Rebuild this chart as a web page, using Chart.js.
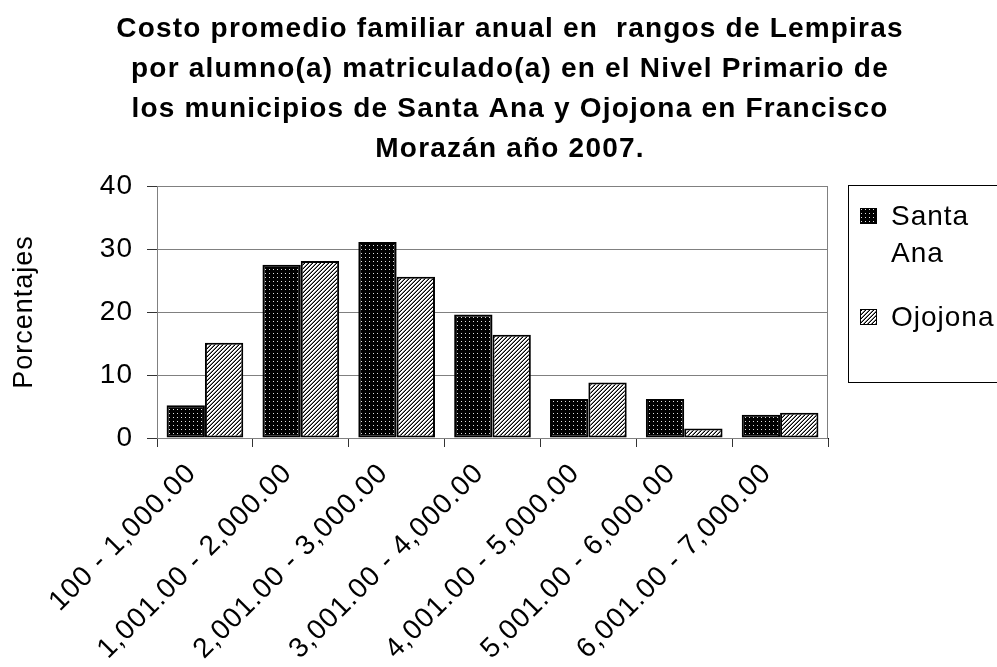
<!DOCTYPE html>
<html>
<head>
<meta charset="utf-8">
<script src="https://cdn.jsdelivr.net/npm/chart.js@4.4.0/dist/chart.umd.min.js"></script>
<style>
  html, body { margin: 0; padding: 0; background: #fff; }
  #wrap { width: 997px; height: 667px; }
</style>
</head>
<body>
<div id="wrap"><canvas id="c" width="997" height="667"></canvas></div>
<script>
const categories = ['100 - 1,000.00', '1,001.00 - 2,000.00', '2,001.00 - 3,000.00', '3,001.00 - 4,000.00', '4,001.00 - 5,000.00', '5,001.00 - 6,000.00', '6,001.00 - 7,000.00'];
const seriesNames = ['Santa Ana', 'Ojojona'];
const legendLines = [['Santa', 'Ana'], ['Ojojona']];
const santaAna = [5.2, 27.5, 31.1, 19.6, 6.2, 6.2, 3.7];
const ojojona = [15.1, 28.1, 25.6, 16.4, 8.8, 1.5, 4.0];
const yMin = 0, yMax = 40, yStep = 10;
const titleLines = [
  'Costo promedio familiar anual en  rangos de Lempiras',
  'por alumno(a) matriculado(a) en el Nivel Primario de',
  'los municipios de Santa Ana y Ojojona en Francisco',
  'Morazán año 2007.'
];
const yAxisTitle = 'Porcentajes';
const FONT = '"Liberation Sans", Arial, sans-serif';

function dotPattern() {
  const t = document.createElement('canvas');
  t.width = 4; t.height = 4;
  const g = t.getContext('2d');
  g.fillStyle = '#000'; g.fillRect(0, 0, 4, 4);
  g.fillStyle = '#e0e0e0'; g.fillRect(1, 1, 1, 1);
  return g.createPattern(t, 'repeat');
}
function stripePattern() {
  const t = document.createElement('canvas');
  t.width = 4; t.height = 4;
  const g = t.getContext('2d');
  g.fillStyle = '#fff'; g.fillRect(0, 0, 4, 4);
  for (let x = 0; x < 4; x++) for (let y = 0; y < 4; y++) {
    const k = (x + y) % 4;
    if (k === 3) { g.fillStyle = '#000'; g.fillRect(x, y, 1, 1); }
    else if (k === 2) { g.fillStyle = '#808080'; g.fillRect(x, y, 1, 1); }
  }
  return g.createPattern(t, 'repeat');
}
const patSA = dotPattern();
const patOJ = stripePattern();
const patterns = [patSA, patOJ];

const decor = {
  id: 'decor',
  beforeDraw(chart) {
    chart.ctx.letterSpacing = '1px';
  },
  beforeDatasetsDraw(chart) {
    const { ctx, chartArea: a } = chart;
    ctx.save();
    ctx.strokeStyle = '#808080';
    ctx.lineWidth = 1;
    ctx.strokeRect(a.left + 0.5, a.top + 0.5, a.right - a.left - 1, a.bottom - a.top);
    ctx.restore();
  },
  afterDraw(chart) {
    const { ctx } = chart;
    ctx.save();
    // title
    ctx.fillStyle = '#000';
    ctx.letterSpacing = '1.2px';
    ctx.font = 'bold 28px ' + FONT;
    ctx.textAlign = 'center';
    ctx.textBaseline = 'middle';
    titleLines.forEach((l, i) => ctx.fillText(l, 510, 29 + i * 40));
    // legend box
    ctx.letterSpacing = '1px';
    const lx = 848, ly = 185, lw = 160, lh = 197;
    ctx.strokeStyle = '#000';
    ctx.lineWidth = 1;
    ctx.strokeRect(lx + 0.5, ly + 0.5, lw, lh);
    ctx.font = '28px ' + FONT;
    ctx.textAlign = 'left';
    const rowY = [216, 317];
    legendLines.forEach((lines, i) => {
      const y = rowY[i];
      ctx.fillStyle = patterns[i];
      ctx.fillRect(860, y - 8, 17, 16);
      ctx.strokeStyle = '#000';
      ctx.strokeRect(860.5, y - 7.5, 16, 15);
      ctx.fillStyle = '#000';
      lines.forEach((t, j) => ctx.fillText(t, 891, y + 1 + j * 37));
    });
    ctx.restore();
  }
};

new Chart(document.getElementById('c'), {
  type: 'bar',
  data: {
    labels: categories,
    datasets: [
      { label: seriesNames[0], data: santaAna, backgroundColor: patSA, borderColor: '#000', borderWidth: 2, borderSkipped: false },
      { label: seriesNames[1], data: ojojona, backgroundColor: patOJ, borderColor: '#000', borderWidth: 2, borderSkipped: false }
    ]
  },
  options: {
    responsive: false,
    animation: false,
    layout: { padding: { top: 186, right: 169, left: 0, bottom: 0 } },
    datasets: { bar: { categoryPercentage: 0.8, barPercentage: 1.0 } },
    plugins: { legend: { display: false }, title: { display: false }, tooltip: { enabled: false } },
    scales: {
      x: {
        offset: true,
        grid: { offset: true, drawOnChartArea: false, drawTicks: true, tickLength: 9, tickColor: '#333' },
        border: { color: '#000', width: 1 },
        ticks: { color: '#000', font: { size: 28, family: FONT }, maxRotation: 45, minRotation: 45, autoSkip: false, padding: 10, labelOffset: -13 },
        afterFit: s => { s.height = 229; }
      },
      y: {
        min: yMin, max: yMax,
        ticks: { stepSize: yStep, color: '#000', font: { size: 28, family: FONT }, padding: 14 },
        grid: { color: '#808080', tickColor: '#333', tickLength: 10 },
        border: { color: '#000', width: 1 },
        title: { display: true, text: yAxisTitle, color: '#000', font: { size: 27, family: FONT }, padding: { top: 8, bottom: 0 } },
        afterFit: s => { s.width = 157; }
      }
    }
  },
  plugins: [decor]
});
</script>
</body>
</html>
